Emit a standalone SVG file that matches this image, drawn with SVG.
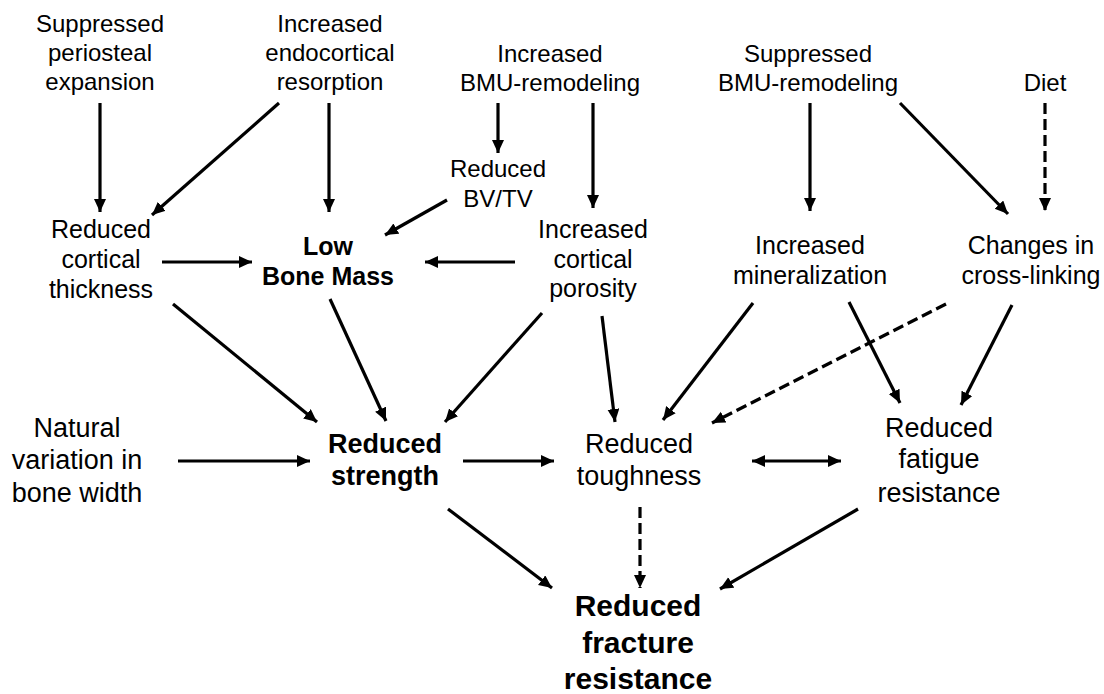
<svg xmlns="http://www.w3.org/2000/svg" width="1104" height="694" viewBox="0 0 1104 694">
<style>
text{font-family:"Liberation Sans",Arial,sans-serif;fill:#000;text-anchor:middle}
.t{font-size:24px}
.m{font-size:25px}
.b{font-size:27px}
.bm{font-size:25px;font-weight:bold}
.bs{font-size:27px;font-weight:bold}
.bf{font-size:30px;font-weight:bold}
.c line{stroke:#000;stroke-width:3.2;fill:none;marker-end:url(#ah)}
.c line.d{stroke-dasharray:11 5}
.c line.both{marker-start:url(#ah)}
</style>
<defs>
<marker id="ah" markerUnits="userSpaceOnUse" markerWidth="14" markerHeight="13" refX="13" refY="6" orient="auto-start-reverse" viewBox="0 0 14 13">
<path d="M0,0 L13,6 L0,12 z" fill="#000"/>
</marker>
</defs>
<rect width="1104" height="694" fill="#fff"/>
<g id="n-periosteal"><text class="t" x="100" y="32">Suppressed</text><text class="t" x="100" y="61">periosteal</text><text class="t" x="100" y="90">expansion</text></g>
<g id="n-endocortical"><text class="t" x="330" y="32">Increased</text><text class="t" x="330" y="61">endocortical</text><text class="t" x="330" y="90">resorption</text></g>
<g id="n-incbmu"><text class="t" x="550" y="62">Increased</text><text class="t" x="550" y="91">BMU-remodeling</text></g>
<g id="n-supbmu"><text class="t" x="808" y="62">Suppressed</text><text class="t" x="808" y="91">BMU-remodeling</text></g>
<g id="n-diet"><text class="t" x="1045" y="91">Diet</text></g>
<g id="n-bvtv"><text class="t" x="498" y="177">Reduced</text><text class="t" x="498" y="207">BV/TV</text></g>
<g id="n-cortthick"><text class="m" x="101" y="238">Reduced</text><text class="m" x="101" y="268">cortical</text><text class="m" x="101" y="298">thickness</text></g>
<g id="n-lowmass"><text class="bm" x="328" y="255">Low</text><text class="bm" x="328" y="285">Bone Mass</text></g>
<g id="n-porosity"><text class="m" x="593" y="238">Increased</text><text class="m" x="593" y="268">cortical</text><text class="m" x="593" y="297">porosity</text></g>
<g id="n-mineral"><text class="m" x="810" y="254">Increased</text><text class="m" x="810" y="284">mineralization</text></g>
<g id="n-crosslink"><text class="m" x="1031" y="254">Changes in</text><text class="m" x="1031" y="284">cross-linking</text></g>
<g id="n-natural"><text class="b" x="77" y="437">Natural</text><text class="b" x="77" y="469">variation in</text><text class="b" x="77" y="502">bone width</text></g>
<g id="n-strength"><text class="bs" x="385" y="453">Reduced</text><text class="bs" x="385" y="485">strength</text></g>
<g id="n-toughness"><text class="b" x="639" y="453">Reduced</text><text class="b" x="639" y="485">toughness</text></g>
<g id="n-fatigue"><text class="b" x="939" y="437">Reduced</text><text class="b" x="939" y="468">fatigue</text><text class="b" x="939" y="502">resistance</text></g>
<g id="n-fracture"><text class="bf" x="638" y="616">Reduced</text><text class="bf" x="638" y="653">fracture</text><text class="bf" x="638" y="689">resistance</text></g>
<g id="connectors" class="c">
<line x1="100" y1="103" x2="100" y2="212"/>
<line x1="279" y1="103" x2="152" y2="215"/>
<line x1="329" y1="103" x2="329" y2="212"/>
<line x1="498" y1="103" x2="498" y2="153"/>
<line x1="593" y1="103" x2="593" y2="208"/>
<line x1="447" y1="200" x2="385" y2="235"/>
<line x1="162" y1="262" x2="252" y2="262"/>
<line x1="515" y1="262" x2="425" y2="262"/>
<line x1="810" y1="103" x2="810" y2="211"/>
<line x1="900" y1="103" x2="1008" y2="214"/>
<line class="d" x1="1045" y1="103" x2="1045" y2="211"/>
<line x1="173" y1="304" x2="317" y2="422"/>
<line x1="330" y1="299" x2="386" y2="421"/>
<line x1="542" y1="313" x2="445" y2="422"/>
<line x1="602" y1="316" x2="615" y2="422"/>
<line x1="753" y1="303" x2="663" y2="420"/>
<line class="d" x1="946" y1="304" x2="712" y2="423"/>
<line x1="849" y1="302" x2="900" y2="403"/>
<line x1="1012" y1="305" x2="961" y2="405"/>
<line x1="178" y1="461" x2="310" y2="461"/>
<line x1="463" y1="461" x2="554" y2="461"/>
<line class="both" x1="752" y1="461" x2="841" y2="461"/>
<line x1="448" y1="509" x2="552" y2="588"/>
<line class="d" x1="640" y1="507" x2="640" y2="588"/>
<line x1="858" y1="509" x2="720" y2="589"/>
</g>
</svg>
